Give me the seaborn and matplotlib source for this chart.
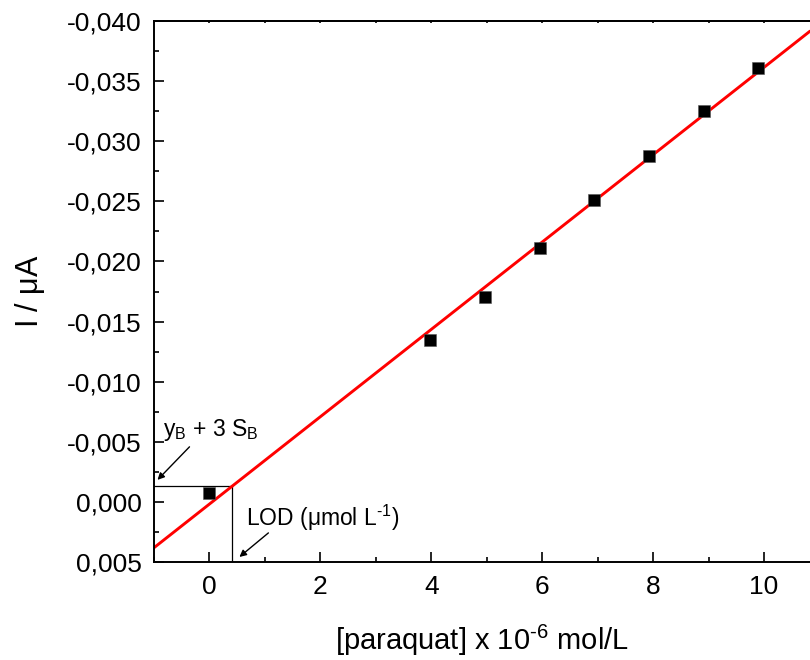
import numpy as np
import pandas as pd
import matplotlib
matplotlib.use("Agg")
import matplotlib.pyplot as plt
from matplotlib.ticker import MultipleLocator, FuncFormatter
import seaborn as sns

# ---- data ----
conc = [0.0, 3.98, 4.97, 5.96, 6.94, 7.93, 8.92, 9.90]          # [paraquat] x 1e-6 mol/L
current = [-0.00072, -0.01348, -0.01705, -0.02113, -0.02512,
           -0.02879, -0.03253, -0.03611]                          # I / uA
fit_intercept = 0.00018
fit_slope = -0.003632
fit_x = [-1.0, 10.83]
lod_x = 0.41            # LOD concentration
yb_3sb = -0.00133       # y_B + 3 S_B
x_ticks = [0, 2, 4, 6, 8, 10]

sns.set_theme(style="white")
plt.rcParams["font.family"] = ["Liberation Sans", "DejaVu Sans"]
plt.rcParams["mathtext.fontset"] = "custom"
plt.rcParams["mathtext.rm"] = "Liberation Sans"
plt.rcParams["mathtext.it"] = "Liberation Sans"
plt.rcParams["axes.unicode_minus"] = False
plt.rcParams["text.color"] = "black"
plt.rcParams["axes.labelcolor"] = "black"
plt.rcParams["xtick.color"] = "black"
plt.rcParams["ytick.color"] = "black"

fig = plt.figure(figsize=(8.1, 6.6), dpi=100)
ax = fig.add_axes([154 / 810, (660 - 562) / 660, (810 - 154) / 810, (562 - 21) / 660])

df = pd.DataFrame({"x": conc, "y": current})
fit_df = pd.DataFrame({"x": fit_x,
                       "y": [fit_intercept + fit_slope * v for v in fit_x]})

sns.lineplot(data=fit_df, x="x", y="y", ax=ax, color="#ff0000", lw=2.1, zorder=2)
sns.scatterplot(data=df, x="x", y="y", ax=ax, marker="s", s=85, color="black",
                edgecolor="#555555", linewidth=0.4, zorder=3)

# LOD construction lines
ax.plot([-1.0, lod_x], [yb_3sb, yb_3sb], color="black", lw=0.9, zorder=1)
ax.plot([lod_x, lod_x], [yb_3sb, 0.005], color="black", lw=0.9, zorder=1)

ax.set_xlim(-1.0, 10.83)
ax.set_ylim(0.005, -0.040)

ax.xaxis.set_major_locator(MultipleLocator(2))
ax.xaxis.set_minor_locator(MultipleLocator(1))
ax.yaxis.set_major_locator(MultipleLocator(0.005))
ax.yaxis.set_minor_locator(MultipleLocator(0.0025))


def fmt(v, pos):
    s = f"{v:.3f}"
    if s == "-0.000":
        s = "0.000"
    return s.replace(".", ",")


ax.yaxis.set_major_formatter(FuncFormatter(fmt))
ax.set_xticks(x_ticks)
ax.set_xticklabels([str(t) for t in x_ticks])

ax.tick_params(axis="both", which="both", direction="in", colors="black",
               bottom=True, left=True, top=False, right=False)
ax.tick_params(axis="both", which="major", length=7, width=1.2, labelsize=19, pad=9)
ax.tick_params(axis="both", which="minor", length=3.5, width=1.2)

for side in ["left", "bottom", "top"]:
    ax.spines[side].set_visible(True)
    ax.spines[side].set_color("black")
    ax.spines[side].set_linewidth(1.4)
ax.spines["right"].set_visible(False)

sec = ax.secondary_xaxis("top")
sec.xaxis.set_major_locator(MultipleLocator(1))
sec.tick_params(direction="in", length=1.5, width=1.2, labelsize=0, labeltop=False)
sec.spines["top"].set_linewidth(1.4)

ax.set_xlabel(r"[paraquat] x 10$^{\text{-6}}$ mol/L", fontsize=21)
ax.set_ylabel(r"I / $\mathregular{\mu}$A", fontsize=22)
ax.xaxis.set_label_coords(0.5, -(640 - 562) / 541)
ax.xaxis.label.set_va("center")
ax.yaxis.set_label_coords((30 - 154) / 656, 0.5)
ax.yaxis.label.set_va("center")

ax.text(-0.84, -0.0060, r"y$_{\mathregular{B}}$ + 3 S$_{\mathregular{B}}$",
        fontsize=16.5, ha="left", va="center")
ax.text(0.667, 0.00133, r"LOD ($\mathregular{\mu}$mol L$^{\text{-1}}$)",
        fontsize=16.5, ha="left", va="center")

arrow = dict(arrowstyle="-|>", color="black", lw=1.0, mutation_scale=10,
             shrinkA=0, shrinkB=0)
ax.annotate("", xy=(-0.937, -0.00183), xytext=(-0.36, -0.00458), arrowprops=arrow)
ax.annotate("", xy=(0.54, 0.00458), xytext=(1.063, 0.00258), arrowprops=arrow)

fig.savefig("out.png", dpi=100)
